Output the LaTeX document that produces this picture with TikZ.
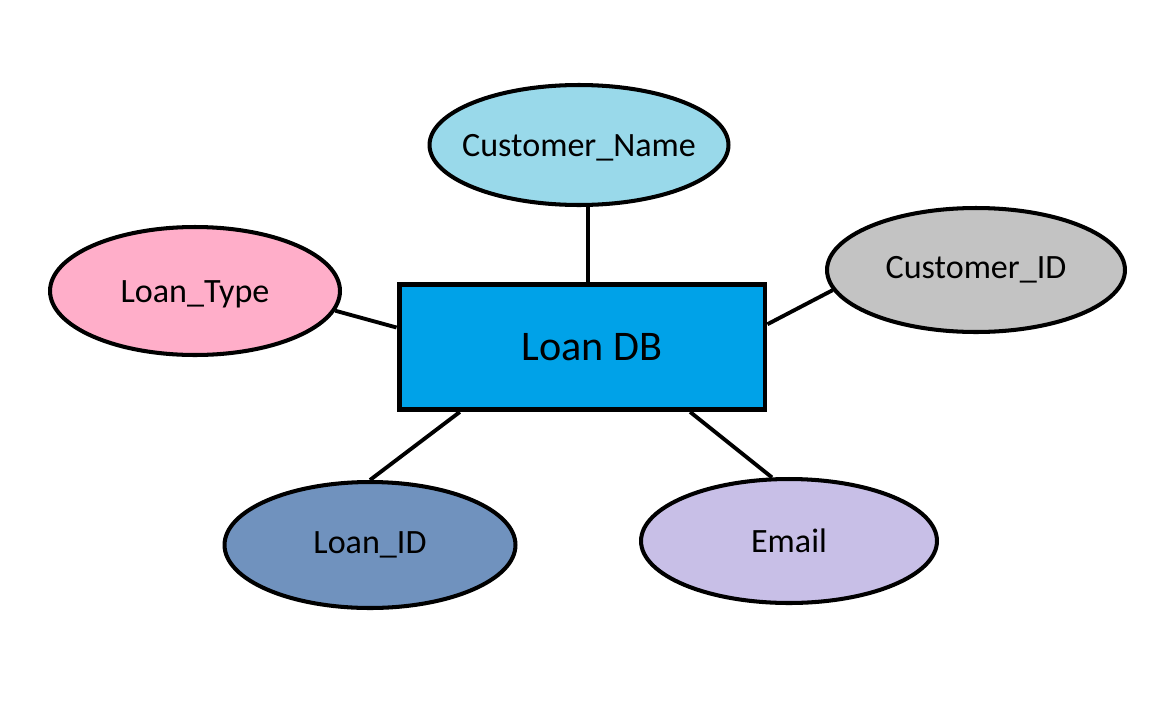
\documentclass[tikz,border=0pt]{standalone}
\usepackage{fontspec}
\setmainfont{Carlito}
\usetikzlibrary{shapes.geometric}
\definecolor{dbblue}{HTML}{00A2E8}
\definecolor{navnblue}{HTML}{99D9EA}
\definecolor{idgray}{HTML}{C3C3C3}
\definecolor{typepink}{HTML}{FFAEC9}
\definecolor{lidblue}{HTML}{7092BE}
\definecolor{mailviolet}{HTML}{C8BFE7}
\tikzset{
	%Define style for the entity box
	tabel/.style={
		rectangle,
		draw=black, line width=2.8pt,
		fill=dbblue,
		minimum width=7.32cm,
		minimum height=2.5cm,
		font=\fontsize{24}{28}\selectfont},
	%Define style for attribute ellipses
	attr/.style={
		ellipse,
		draw=black, line width=2.3pt,
		minimum width=5.96cm,
		minimum height=2.48cm,
		inner sep=0pt},
	%Define style for attribute text
	navn/.style={font=\fontsize{19.4}{23}\selectfont},
	% Define line style
	led/.style={line width=2.2pt}
}
\begin{document}
\begin{tikzpicture}[x=0.02cm, y=-0.02cm]
	
	\useasboundingbox (0,0) rectangle (1152,720);
	
	\node[tabel] (db) at (582,347) {\hspace*{0.4cm}Loan DB};
	\node[attr, fill=navnblue, minimum width=5.98cm, minimum height=2.4cm,
		label={[navn, yshift=-0.06cm]center:Customer\_Name}] (cname) at (579,145) {};
	\node[attr, fill=idgray,
		label={[navn]center:Customer\_ID}] (cid) at (976,270) {};
	\node[attr, fill=typepink, minimum width=5.8cm, minimum height=2.56cm,
		label={[navn, yshift=-0.06cm]center:Loan\_Type}] (ltype) at (195,291) {};
	\node[attr, fill=lidblue, minimum width=5.82cm, minimum height=2.52cm,
		label={[navn]center:Loan\_ID}] (lid) at (370,545) {};
	\node[attr, fill=mailviolet, minimum width=5.92cm,
		label={[navn]center:Email}] (email) at (789,541) {};
	
	% lines from the attributes to the box
	\draw[led] ([xshift=0.18cm]cname.south) -- ([xshift=0.18cm]cname.south |- db.north);
	\draw[led] (ltype.-8.7) -- (db.174.7);
	\draw[led] (cid.188.5) -- (db.7.3);
	\draw[led] (lid.north) -- (db.208);
	\draw[led] (email.105.7) -- (db.-31.6);
	
\end{tikzpicture}
\end{document}
